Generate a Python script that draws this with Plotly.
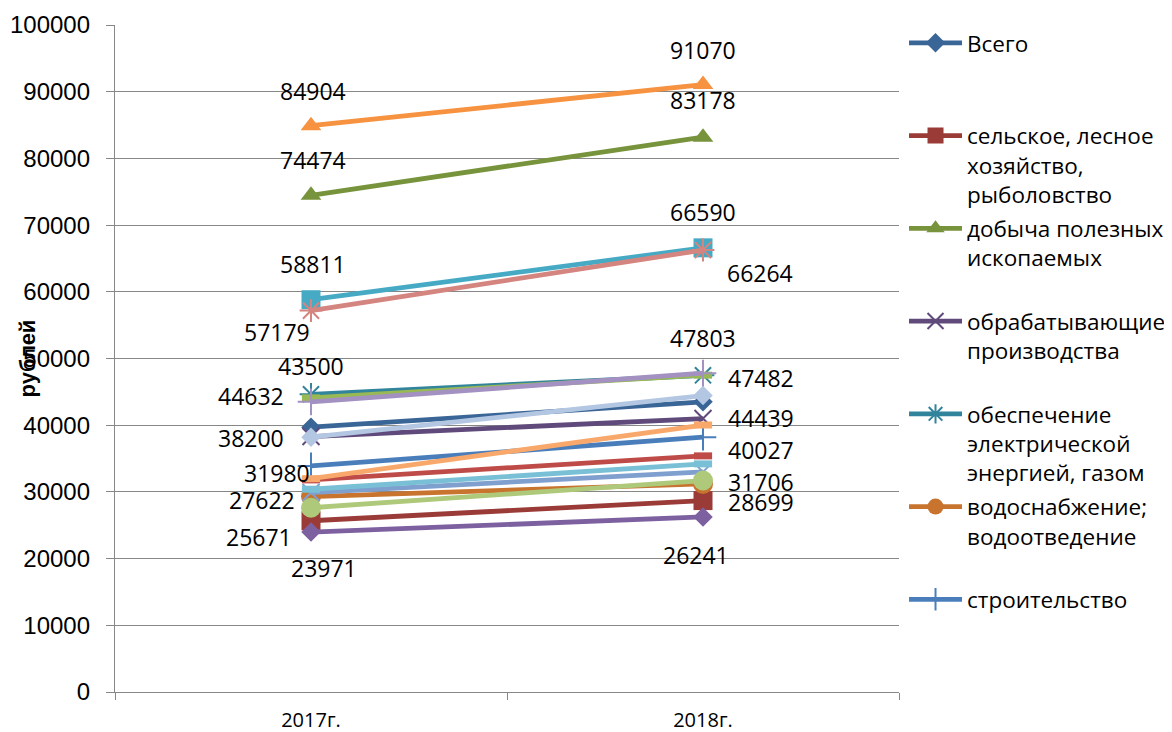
import plotly.graph_objects as go

categories = ["2017г.", "2018г."]

series_names = [
    "Всего",
    "сельское, лесное хозяйство, рыболовство",
    "добыча полезных ископаемых",
    "обрабатывающие производства",
    "обеспечение электрической энергией, газом",
    "водоснабжение; водоотведение",
    "строительство",
    "торговля оптовая и розничная",
    "транспортировка и хранение",
    "деятельность гостиниц и предприятий общественного питания",
    "деятельность в области информации и связи",
    "деятельность финансовая и страховая",
    "деятельность по операциям с недвижимым имуществом",
    "деятельность профессиональная, научная и техническая",
    "деятельность административная",
    "государственное управление и обеспечение военной безопасности",
    "образование",
    "деятельность в области здравоохранения и социальных услуг",
    "деятельность в области культуры, спорта",
]

legend_texts = [
    "Всего<br>\u00a0<br>\u00a0",
    "сельское, лесное<br>хозяйство,<br>рыболовство",
    "добыча полезных<br>ископаемых<br>\u00a0",
    "обрабатывающие<br>производства<br>\u00a0",
    "обеспечение<br>электрической<br>энергией, газом",
    "водоснабжение;<br>водоотведение<br>\u00a0",
    "строительство<br>\u00a0<br>\u00a0",
]

values_2017 = [39700, 25671, 74474, 38300, 44632, 29300, 33900, 31800, 44100,
               23971, 58811, 84904, 29900, 57179, 27622, 43500, 30400, 31980, 38200]
values_2018 = [43500, 28699, 83178, 41000, 47482, 31200, 38200, 35400, 47500,
               26241, 66590, 91070, 33000, 66264, 31706, 47803, 34200, 40027, 44439]

# which series carry data labels
labeled = [False, True, True, False, True, False, False, False, False,
           True, True, True, False, True, True, True, False, True, True]

# ---- styles ----
colors = ["#3A6597", "#9A3B38", "#77933C", "#5F4A7B", "#31849B", "#C8732E",
          "#4A7EBB", "#BE4B48", "#98B954", "#7D60A0", "#46AAC5", "#F69240",
          "#7F9FCF", "#D4857F", "#AFC97A", "#A391C2", "#79C0D6", "#F9A86B",
          "#B3C6E2"]
symbols = ["diamond", "square", "triangle-up", "x-thin-open", "asterisk-open",
           "circle", "cross-thin-open", "line-ew-open", "line-ew-open",
           "diamond", "square", "triangle-up", "x-thin-open", "asterisk-open",
           "circle", "cross-thin-open", "line-ew-open", "line-ew-open",
           "diamond"]
sym_size = {"diamond": 15, "square": 19, "triangle-up": 18, "x-thin-open": 17,
            "asterisk-open": 19, "circle": 20, "cross-thin-open": 19,
            "line-ew-open": 13}
sym_lw = {"x-thin-open": 2, "asterisk-open": 2, "cross-thin-open": 2,
          "line-ew-open": 7}

# label pixel offsets (dx, dy) per labelled series: (2017, 2018)
label_offsets = {
    1: ((-52, 16), (58, 1)),
    2: ((2, -35), (0, -37)),
    4: ((-60, 2), (58, 3)),
    9: ((13, 36), (-7, 38)),
    10: ((2, -36), (0, -36)),
    11: ((2, -35), (0, -35)),
    13: ((-34, 21), (57, 23)),
    14: ((-49, -8), (58, 1)),
    15: ((0, -36), (0, -35)),
    17: ((-34, -6), (58, 25)),
    18: ((-60, 1), (58, 22)),
}

fig = go.Figure()
for i, name in enumerate(series_names):
    s = symbols[i]
    lw = sym_lw.get(s, 0)
    fig.add_trace(go.Scatter(
        x=categories,
        y=[values_2017[i], values_2018[i]],
        mode="lines+markers",
        name=legend_texts[i] if i < len(legend_texts) else name,
        showlegend=i < len(legend_texts),
        legendgroup="g%d" % i,
        line=dict(color=colors[i], width=4.8),
        marker=dict(symbol=s, size=sym_size[s], color=colors[i],
                    line=dict(color=colors[i], width=lw)),
        hovertext=name,
    ))

annotations = []
for i, name in enumerate(series_names):
    if not labeled[i]:
        continue
    offs = label_offsets[i]
    for j, v in enumerate([values_2017[i], values_2018[i]]):
        dx, dy = offs[j]
        annotations.append(dict(
            x=categories[j], y=v, xref="x", yref="y",
            text=str(v), showarrow=False,
            xshift=dx, yshift=-dy,
            font=dict(family="Open Sans", size=23, color="black"),
        ))

annotations.append(dict(
    x=-0.111, y=0.5, xref="paper", yref="paper",
    xanchor="center", yanchor="middle",
    text="<b>рублей</b>", textangle=-90, showarrow=False,
    font=dict(family="Liberation Sans", size=22, color="black"),
))

grid = "#878787"
fig.update_layout(
    width=1164, height=724,
    margin=dict(l=107, r=273, t=17, b=40, autoexpand=False),
    paper_bgcolor="white", plot_bgcolor="white",
    annotations=annotations,
    legend=dict(
        x=1.0064, y=1.005, xanchor="left", yanchor="top",
        font=dict(family="Open Sans", size=22.5, color="black"),
        valign="top", itemwidth=53, tracegroupgap=2,
        maxheight=724,
        bgcolor="rgba(0,0,0,0)",
    ),
    xaxis=dict(
        type="category", range=[-0.5, 1.5],
        tickson="boundaries", ticks="outside", ticklen=7, tickwidth=1.3,
        tickcolor=grid, showline=True, linecolor=grid, linewidth=1.3,
        showgrid=False, zeroline=False, automargin=False,
        tickfont=dict(family="Open Sans", size=20, color="black"),
        ticklabelstandoff=10,
    ),
    yaxis=dict(
        range=[0, 100000], dtick=10000, tickformat="d",
        showgrid=True, gridcolor=grid, gridwidth=1.3,
        ticks="outside", ticklen=8, tickwidth=1.3, tickcolor=grid,
        showline=True, linecolor=grid, linewidth=1.3, zeroline=False,
        automargin=False,
        tickfont=dict(family="Liberation Sans", size=24, color="black"),
        ticklabelstandoff=11,
    ),
)

fig.write_html("out.html")
